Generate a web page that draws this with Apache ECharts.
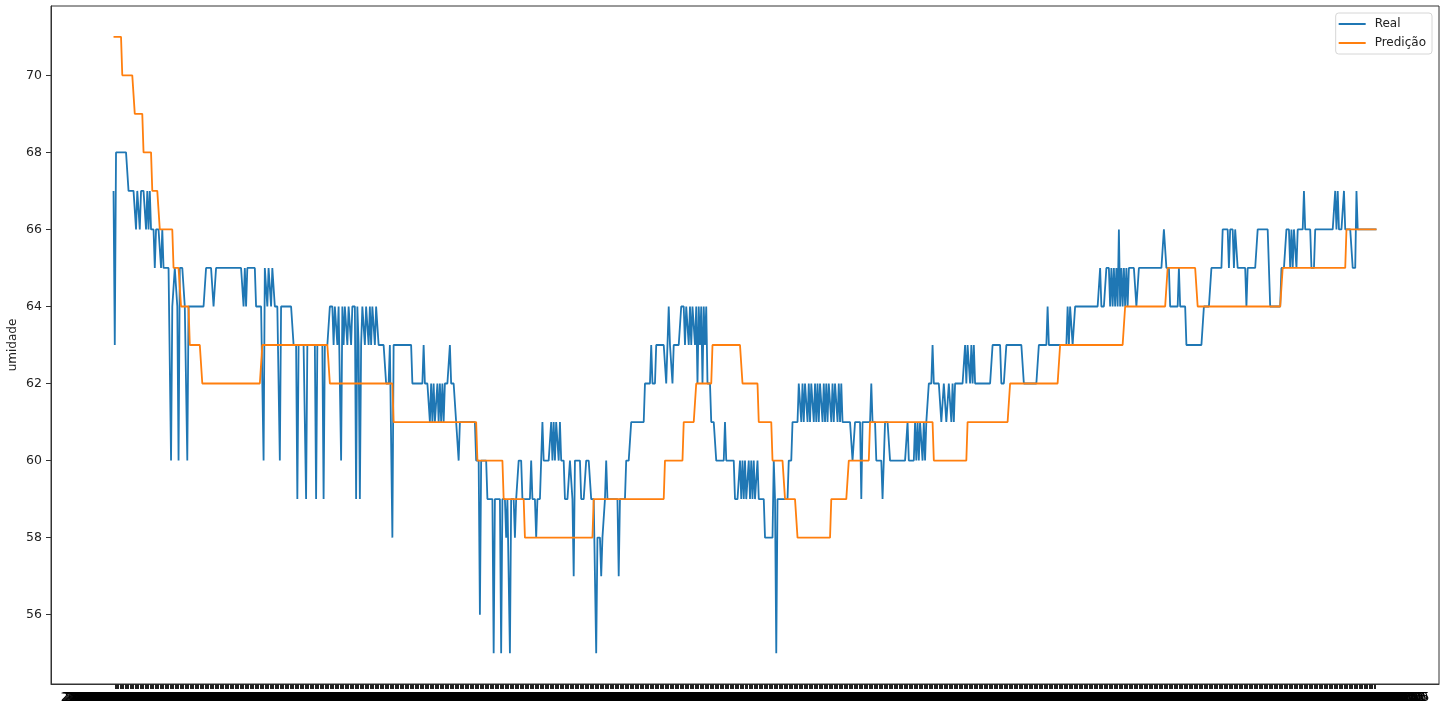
<!DOCTYPE html>
<html>
<head>
<meta charset="utf-8">
<title>umidade – Real x Predição</title>
<script src="https://cdn.jsdelivr.net/npm/echarts@6/dist/echarts.min.js"></script>
<style>
  html, body { margin: 0; padding: 0; background: #ffffff; }
  #chart { width: 1447px; height: 702px; }
</style>
</head>
<body>
<div id="chart"></div>
<script>
// Measured humidity, one reading per sample (20 per row)
const real = [
  67,63,68,68,68,68,68,68,68,68,68,68,67,67,67,67,67,67,66,67,
  67,66,67,67,67,67,66,67,66,67,66,66,66,65,66,66,66,66,65,66,
  65,65,65,65,65,65,60,64,64,65,65,64,60,65,65,65,65,64,64,60,
  64,64,64,64,64,64,64,64,64,64,64,64,64,64,65,65,65,65,65,65,
  64,64,65,65,65,65,65,65,65,65,65,65,65,65,65,65,65,65,65,65,
  65,65,65,65,64,65,64,65,65,65,65,65,65,65,64,64,64,64,64,64,
  60,65,65,64,65,65,64,65,65,64,64,64,64,60,64,64,64,64,64,64,
  64,64,64,64,63,63,63,59,63,63,63,63,63,63,59,63,63,63,63,63,
  63,63,59,63,63,63,63,63,59,63,63,63,63,64,64,64,63,64,64,63,
  64,64,60,64,63,64,64,63,64,64,63,64,64,64,59,64,63,59,63,64,
  64,63,64,64,63,64,63,64,64,63,64,64,63,63,63,63,63,63,62,62,
  62,63,63,58,63,63,63,63,63,63,63,63,63,63,63,63,63,63,63,62,
  62,62,62,62,62,62,62,62,63,62,62,62,62,61,62,61,62,61,61,62,
  61,62,61,62,61,62,62,62,62,63,62,62,62,62,61,61,60,61,61,61,
  61,61,61,61,61,61,61,61,61,61,60,60,60,56,60,60,60,60,60,59,
  59,59,59,59,55,59,59,59,59,59,55,59,59,59,58,59,59,55,59,59,
  59,58,59,59,60,60,60,59,59,59,59,59,59,59,60,59,59,59,58,59,
  59,59,60,61,60,60,60,60,60,60,61,60,61,60,61,61,60,61,60,60,
  60,59,59,59,59,60,60,59,57,60,60,60,60,60,59,59,59,59,60,60,
  60,60,59,59,59,59,55,58,58,58,57,58,58,59,60,59,59,59,59,59,
  59,59,59,59,57,59,59,59,59,59,60,60,60,60,61,61,61,61,61,61,
  61,61,61,61,61,62,62,62,62,62,63,62,62,62,63,63,63,63,63,63,
  63,63,62,63,64,63,63,62,63,63,63,63,63,63,64,64,64,63,64,64,
  63,64,63,64,64,63,64,62,64,63,64,62,64,63,64,62,62,62,61,61,
  61,61,60,60,60,60,60,60,60,61,60,60,60,60,60,60,60,59,59,59,
  59,60,59,60,59,60,59,59,60,59,60,59,60,59,59,60,59,59,59,59,
  59,58,58,58,58,58,58,58,60,59,55,59,59,59,59,59,59,59,59,59,
  60,60,60,61,61,61,61,61,62,62,61,62,61,62,62,61,62,61,62,62,
  61,62,61,62,61,62,62,61,62,61,62,61,62,62,61,62,61,62,62,61,
  62,61,62,61,61,61,61,61,61,61,61,60,60,61,61,61,61,61,59,61,
  61,61,61,61,61,61,62,61,61,61,60,60,60,60,60,59,60,61,61,61,
  61,60,60,60,60,60,60,60,60,60,60,60,60,60,60,61,60,60,60,60,
  60,61,60,61,60,61,61,60,61,60,61,61,62,62,62,63,62,62,62,62,
  62,62,61,61,62,62,61,61,62,62,61,62,61,62,62,62,62,62,62,62,
  62,63,62,63,63,62,63,62,63,62,62,62,62,62,62,62,62,62,62,62,
  62,62,62,63,63,63,63,63,63,63,62,62,62,62,63,63,63,63,63,63,
  63,63,63,63,63,63,63,63,62,62,62,62,62,62,62,62,62,62,62,62,
  63,63,63,63,63,63,63,64,63,63,63,63,63,63,63,63,63,63,63,63,
  63,63,63,64,63,64,64,63,63,64,64,64,64,64,64,64,64,64,64,64,
  64,64,64,64,64,64,64,64,64,65,64,64,64,64,65,65,65,64,65,64,
  65,64,65,64,66,64,65,64,65,64,65,64,65,65,65,65,65,65,64,64,
  65,65,65,65,65,65,65,65,65,65,65,65,65,65,65,65,65,65,65,65,
  66,66,65,65,65,64,64,64,64,64,64,64,65,64,64,64,64,64,63,63,
  63,63,63,63,63,63,63,63,63,63,63,63,64,64,64,64,64,64,65,65,
  65,65,65,65,65,65,65,66,66,66,66,66,65,66,66,66,65,66,66,65,
  65,65,65,65,65,65,64,65,65,65,65,65,65,65,65,66,66,66,66,66,
  66,66,66,66,65,64,64,64,64,64,64,64,64,64,65,65,65,65,66,66,
  66,65,66,65,66,66,65,66,66,66,66,66,67,66,66,66,66,66,65,65,
  65,66,66,66,66,66,66,66,66,66,66,66,66,66,66,66,66,67,66,67,
  66,66,66,66,67,66,66,66,66,66,66,65,65,65,67,66,66,66,66,66,
  66,66,66,66,66,66,66,66,66,66,66
];

// Model output for the same samples (20 per row)
const predicted = [
  71,71,71,71,71,71,71,70,70,70,70,70,70,70,70,70,70,69,69,69,
  69,69,69,69,68,68,68,68,68,68,68,67,67,67,67,67,67,66,66,66,
  66,66,66,66,66,66,66,66,65,65,65,65,65,65,64,64,64,64,64,64,
  64,63,63,63,63,63,63,63,63,63,63,62,62,62,62,62,62,62,62,62,
  62,62,62,62,62,62,62,62,62,62,62,62,62,62,62,62,62,62,62,62,
  62,62,62,62,62,62,62,62,62,62,62,62,62,62,62,62,62,62,62,63,
  63,63,63,63,63,63,63,63,63,63,63,63,63,63,63,63,63,63,63,63,
  63,63,63,63,63,63,63,63,63,63,63,63,63,63,63,63,63,63,63,63,
  63,63,63,63,63,63,63,63,63,63,63,63,63,62,62,62,62,62,62,62,
  62,62,62,62,62,62,62,62,62,62,62,62,62,62,62,62,62,62,62,62,
  62,62,62,62,62,62,62,62,62,62,62,62,62,62,62,62,62,62,62,62,
  62,62,62,62,61,61,61,61,61,61,61,61,61,61,61,61,61,61,61,61,
  61,61,61,61,61,61,61,61,61,61,61,61,61,61,61,61,61,61,61,61,
  61,61,61,61,61,61,61,61,61,61,61,61,61,61,61,61,61,61,61,61,
  61,61,61,61,61,61,61,61,61,61,61,60,60,60,60,60,60,60,60,60,
  60,60,60,60,60,60,60,60,60,60,60,60,59,59,59,59,59,59,59,59,
  59,59,59,59,59,59,59,59,59,58,58,58,58,58,58,58,58,58,58,58,
  58,58,58,58,58,58,58,58,58,58,58,58,58,58,58,58,58,58,58,58,
  58,58,58,58,58,58,58,58,58,58,58,58,58,58,58,58,58,58,58,58,
  58,58,58,58,59,59,59,59,59,59,59,59,59,59,59,59,59,59,59,59,
  59,59,59,59,59,59,59,59,59,59,59,59,59,59,59,59,59,59,59,59,
  59,59,59,59,59,59,59,59,59,59,59,59,59,59,59,59,59,59,59,59,
  59,60,60,60,60,60,60,60,60,60,60,60,60,60,60,60,61,61,61,61,
  61,61,61,61,61,61,62,62,62,62,62,62,62,62,62,62,62,62,62,63,
  63,63,63,63,63,63,63,63,63,63,63,63,63,63,63,63,63,63,63,63,
  63,63,63,62,62,62,62,62,62,62,62,62,62,62,62,62,61,61,61,61,
  61,61,61,61,61,61,61,60,60,60,60,60,60,60,60,60,60,59,59,59,
  59,59,59,59,59,59,59,58,58,58,58,58,58,58,58,58,58,58,58,58,
  58,58,58,58,58,58,58,58,58,58,58,58,58,58,59,59,59,59,59,59,
  59,59,59,59,59,59,59,59,60,60,60,60,60,60,60,60,60,60,60,60,
  60,60,60,60,60,61,61,61,61,61,61,61,61,61,61,61,61,61,61,61,
  61,61,61,61,61,61,61,61,61,61,61,61,61,61,61,61,61,61,61,61,
  61,61,61,61,61,61,61,61,61,61,61,61,61,61,61,61,60,60,60,60,
  60,60,60,60,60,60,60,60,60,60,60,60,60,60,60,60,60,60,60,60,
  60,60,60,61,61,61,61,61,61,61,61,61,61,61,61,61,61,61,61,61,
  61,61,61,61,61,61,61,61,61,61,61,61,61,61,61,61,61,62,62,62,
  62,62,62,62,62,62,62,62,62,62,62,62,62,62,62,62,62,62,62,62,
  62,62,62,62,62,62,62,62,62,62,62,62,62,62,62,62,62,63,63,63,
  63,63,63,63,63,63,63,63,63,63,63,63,63,63,63,63,63,63,63,63,
  63,63,63,63,63,63,63,63,63,63,63,63,63,63,63,63,63,63,63,63,
  63,63,63,63,63,63,63,63,63,64,64,64,64,64,64,64,64,64,64,64,
  64,64,64,64,64,64,64,64,64,64,64,64,64,64,64,64,64,64,64,64,
  64,64,64,65,65,65,65,65,65,65,65,65,65,65,65,65,65,65,65,65,
  65,65,65,65,65,65,65,64,64,64,64,64,64,64,64,64,64,64,64,64,
  64,64,64,64,64,64,64,64,64,64,64,64,64,64,64,64,64,64,64,64,
  64,64,64,64,64,64,64,64,64,64,64,64,64,64,64,64,64,64,64,64,
  64,64,64,64,64,64,64,64,64,64,64,64,64,64,64,65,65,65,65,65,
  65,65,65,65,65,65,65,65,65,65,65,65,65,65,65,65,65,65,65,65,
  65,65,65,65,65,65,65,65,65,65,65,65,65,65,65,65,65,65,65,65,
  65,65,65,65,65,65,66,66,66,66,66,66,66,66,66,66,66,66,66,66,
  66,66,66,66,66,66,66,66,66,66,66
];

// Timestamp tick labels, one per sample (5-minute readings)
const timeLabels = [];
(function () {
  const t0 = Date.UTC(2021, 6, 20, 0, 0);
  const p = n => String(n).padStart(2, '0');
  for (let i = 0; i < real.length; i++) {
    const d = new Date(t0 + i * 5 * 60000);
    timeLabels.push(d.getUTCFullYear() + '-' + p(d.getUTCMonth() + 1) + '-' + p(d.getUTCDate()) +
      ' ' + p(d.getUTCHours()) + ':' + p(d.getUTCMinutes()));
  }
})();

const yTicks = [56, 58, 60, 62, 64, 66, 68, 70];
const seriesNames = ['Real', 'Predição'];
const seriesColors = ['#1f77b4', '#ff7f0e'];

// empty slots on both sides give the plot its 5% side margins
const PAD = 50;
const N = real.length;
const categories = [];
for (let i = 0; i < PAD; i++) categories.push('');
timeLabels.forEach(l => categories.push(l));
for (let i = 0; i < PAD; i++) categories.push('');
const onSample = idx => idx >= PAD && idx < PAD + N;

const font = 'DejaVu Sans';
const chart = echarts.init(document.getElementById('chart'), null, { renderer: 'canvas' });

chart.setOption({
  animation: false,
  backgroundColor: '#ffffff',
  textStyle: { fontFamily: font },
  grid: {
    left: 51, right: 8, top: 6, bottom: 18,
    containLabel: false,
    outerBoundsMode: 'none',
    show: true, borderColor: '#333', borderWidth: 1, backgroundColor: 'transparent'
  },
  legend: {
    orient: 'vertical',
    right: 15, top: 13,
    data: seriesNames,
    icon: 'rect',
    itemWidth: 27, itemHeight: 2,
    itemGap: 7,
    padding: [5, 6, 5, 3],
    borderColor: '#d6d6d6', borderWidth: 1, borderRadius: 3,
    backgroundColor: 'rgba(255,255,255,0.8)',
    textStyle: { fontFamily: font, fontSize: 12, color: '#222', padding: [0, 0, 0, 4] }
  },
  xAxis: {
    type: 'category',
    data: categories,
    boundaryGap: false,
    axisLine: { show: true, lineStyle: { color: '#333', width: 1 } },
    axisTick: { show: true, length: 5, interval: (idx) => onSample(idx), lineStyle: { color: '#222', width: 1 } },
    axisLabel: {
      show: true, interval: (idx) => onSample(idx), margin: 8,
      fontFamily: font, fontSize: 12, color: '#000', hideOverlap: false
    },
    splitLine: { show: false }
  },
  yAxis: {
    type: 'value',
    min: 54.2, max: 71.8,
    minInterval: 2, maxInterval: 2,
    name: 'umidade',
    nameLocation: 'middle',
    nameRotate: 90,
    nameGap: 32,
    nameMoveOverlap: false,
    nameTextStyle: { fontFamily: font, fontSize: 12, color: '#222' },
    axisLine: { show: true, lineStyle: { color: '#333', width: 1 } },
    axisTick: { show: true, length: 5, lineStyle: { color: '#333' } },
    axisLabel: {
      margin: 9, fontFamily: font, fontSize: 12.5, color: '#222',
      showMinLabel: false, showMaxLabel: false,
      formatter: v => (yTicks.indexOf(v) >= 0 ? String(v) : '')
    },
    splitLine: { show: false }
  },
  series: [
    {
      name: seriesNames[0], type: 'line',
      data: real.map((v, i) => [i + PAD, v]),
      showSymbol: false, symbol: 'none',
      lineStyle: { color: seriesColors[0], width: 1.8 },
      itemStyle: { color: seriesColors[0] },
      silent: true
    },
    {
      name: seriesNames[1], type: 'line',
      data: predicted.map((v, i) => [i + PAD, v]),
      showSymbol: false, symbol: 'none',
      lineStyle: { color: seriesColors[1], width: 1.8 },
      itemStyle: { color: seriesColors[1] },
      silent: true
    }
  ]
});
</script>
</body>
</html>
